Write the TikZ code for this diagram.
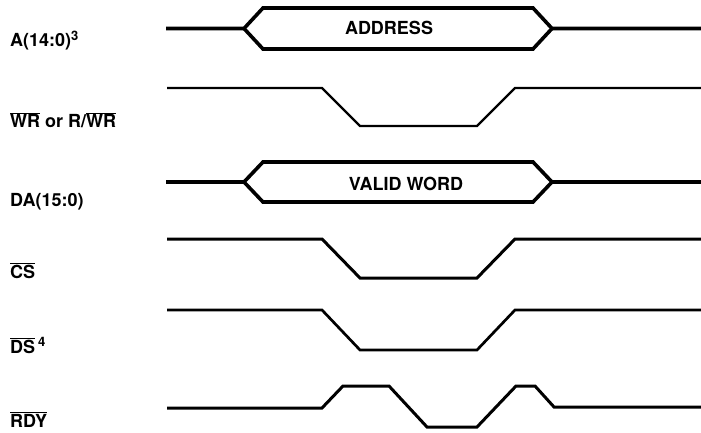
\documentclass[tikz,border=0pt]{standalone}
\usepackage{fontspec}
\setmainfont{TeX Gyre Heros}
\newcommand\olx[1]{\ensuremath{\overline{\mbox{#1}}}}
\begin{document}
\begin{tikzpicture}[x=1pt,y=-1pt,
  lbl/.style={anchor=base west,inner sep=0pt,font=\bfseries\fontsize{18}{20}\selectfont},
  val/.style={anchor=base,inner sep=0pt,font=\bfseries\fontsize{18}{20}\selectfont},
  bus/.style={line width=3.6pt,line join=miter},
  sig/.style={line width=3pt,line join=miter},
  thin/.style={line width=2.3pt,line join=miter}]
\useasboundingbox (0,0) rectangle (701,433);
% labels
\node[lbl] (la) at (10,47) {A(14:0)\textsuperscript{\fontsize{13}{14}\selectfont 3}};
\node[lbl] (lwr) at (10,128) {\olx{WR} or R/\olx{WR}};
\node[lbl] (lda) at (10,206) {DA(15:0)};
\node[lbl] (lcs) at (10,278) {\olx{CS}};
\node[lbl] (lds) at (10,353) {\olx{DS}\,\textsuperscript{\fontsize{13}{14}\selectfont 4}};
\node[lbl] (lrdy) at (10,427) {\olx{RDY}};
% A bus
\draw[bus] (166,28.5) -- (244,28.5) -- (263,8) -- (533,8) -- (552,28.5) -- (701,28.5);
\draw[bus] (244,28.5) -- (263,49) -- (533,49) -- (552,28.5);
\node[val] (vaddr) at (389,35) {ADDRESS};
% WR
\draw[thin] (167,88) -- (322,88) -- (360,126) -- (477,126) -- (515,88) -- (701,88);
% DA bus
\draw[bus] (166,182) -- (244,182) -- (263,162) -- (533,162) -- (552,182) -- (701,182);
\draw[bus] (244,182) -- (263,202) -- (533,202) -- (552,182);
\node[val] (vword) at (406,190) {VALID WORD};
% CS
\draw[sig] (167,239) -- (322,239) -- (360,278) -- (477,278) -- (515,239) -- (701,239);
% DS
\draw[sig,line width=2.7pt] (167,310) -- (322,310) -- (360,350) -- (477,350) -- (515,310) -- (701,310);
% RDY
\draw[sig] (167,408) -- (322,408) -- (343,386) -- (389,386) -- (427,427) -- (477,427) -- (516,386) -- (535,386) -- (554,407) -- (701,407);
\end{tikzpicture}
\end{document}
